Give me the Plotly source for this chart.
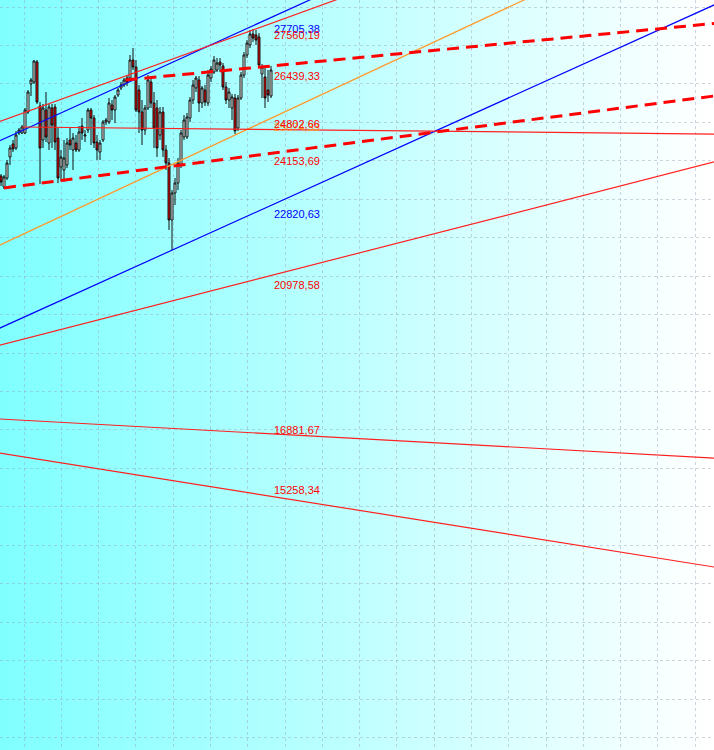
import plotly.graph_objects as go

# ---- candle data (bar index, prices) ----
opens = [23748, 23451, 23694, 24261, 24612, 24504, 24909, 24909, 24909, 25476,
         26232, 26286, 26826, 25638, 24720, 25530, 24639, 25584, 25611, 24774,
         23991, 23910, 24045, 24720, 24450, 24639, 24450, 25098, 24828, 24990,
         25530, 25314, 24666, 24396, 24720, 25206, 25206, 25665, 25530, 25935,
         26124, 26205, 26394, 26394, 26880, 26691, 26070, 25476, 24990, 25584,
         26286, 25719, 25584, 24855, 25476, 24450, 24099, 22560, 23289, 23559,
         24045, 24801, 24801, 25314, 25800, 26124, 26340, 25719, 26070, 25719,
         26394, 26556, 26610, 26826, 26718, 26151, 25800, 25584, 25854, 25044,
         25854, 26475, 27015, 27285, 27582, 27555, 27501, 26502, 26421, 26070,
         25908]
highs = [23802, 23775, 24180, 24585, 24720, 24963, 25044, 25125, 25584, 26070,
         26394, 26880, 26880, 25746, 25692, 26016, 25692, 25692, 25692, 25044,
         24450, 24720, 24774, 25044, 24909, 24855, 25098, 25314, 24990, 25584,
         25584, 25395, 24855, 24720, 25260, 25314, 25854, 25800, 25935, 26124,
         26286, 26394, 26475, 27015, 27204, 26880, 26205, 25800, 25665, 26475,
         26394, 26016, 25800, 25611, 25611, 24585, 24234, 23370, 23694, 24234,
         24990, 25395, 25449, 25881, 26340, 26448, 26448, 26178, 26205, 26610,
         26718, 26988, 26934, 26934, 26799, 26286, 26124, 25962, 25962, 25935,
         26556, 27096, 27420, 27690, 27717, 27690, 27609, 26772, 26718, 26610,
         26718]
lows = [23478, 23397, 23640, 24045, 24396, 24450, 24855, 24882, 24882, 25422,
        25908, 26232, 25692, 23532, 24504, 24666, 24450, 24504, 24450, 23559,
        23613, 23586, 23964, 24450, 23910, 24396, 24396, 24720, 24666, 24909,
        24585, 24504, 24180, 24180, 24666, 25125, 25152, 25260, 25179, 25881,
        26070, 26151, 26178, 26340, 26610, 25476, 24909, 24585, 24855, 25530,
        25584, 24504, 24261, 24720, 24261, 23910, 22290, 21750, 22965, 23370,
        23964, 24720, 24747, 25206, 25692, 26016, 25476, 25584, 25638, 25638,
        26286, 26502, 26556, 26556, 26070, 25692, 25584, 25260, 24882, 24963,
        25800, 26394, 26934, 27204, 27366, 27285, 26664, 25854, 25584, 25746,
        25854]
closes = [23586, 23721, 24099, 24504, 24477, 24855, 24990, 25071, 25530, 26016,
          26340, 26853, 25746, 24504, 25584, 24801, 25611, 25125, 24666, 23694,
          24261, 24234, 24639, 24585, 24774, 24450, 24936, 24909, 24855, 25530,
          25314, 24639, 24450, 24639, 25206, 25260, 25719, 25530, 25881, 26070,
          26205, 26340, 26286, 26880, 26691, 25530, 25476, 24990, 25584, 26340,
          25719, 25044, 24504, 25476, 24450, 24099, 22560, 23289, 23559, 24099,
          24909, 25260, 25341, 25800, 26205, 26394, 25719, 26124, 25746, 26475,
          26637, 26880, 26799, 26745, 26151, 25800, 26016, 25881, 24963, 25854,
          26475, 27015, 27339, 27582, 27474, 27420, 26745, 26691, 25854, 25935,
          26610]
bar_index = list(range(len(opens)))

# ---- trend lines: start/end bar index and price ----
line_x0 = [-1, -1, -1, -1, 7, 41.5, 1, -1, -1, -1]
line_x1 = [240, 110, 120, 180, 240, 240, 240, 240, 240, 240]
line_y0 = [19620, 24680, 25201, 21860, 25071, 26340, 23427, 19171, 17190, 16277]
line_y1 = [28451, 28762, 28748, 28716, 24879, 27884, 25932, 24175, 16123, 13161]
line_color = ["#0000FF", "#0000FF", "#FF2020", "#FF9A2E", "#FF2020",
              "#FF0000", "#FF0000", "#FF2020", "#FF2020", "#FF2020"]
line_width = [1.2, 1.2, 1.2, 1.2, 1.2, 3, 3, 1.2, 1.2, 1.2]
line_dash = ["solid", "solid", "solid", "solid", "solid",
             "12px,7px", "12px,7px", "solid", "solid", "solid"]

# ---- price labels ----
label_text = ["27705,38", "27560,19", "26439,33", "25074,33", "24802,66",
              "24153,69", "22820,63", "20978,58", "16881,67", "15258,34"]
label_value = [27705.38, 27560.19, 26439.33, 25074.33, 24802.66,
               24153.69, 22820.63, 20978.58, 16881.67, 15258.34]
label_color = ["#0000FF", "#FF0000", "#FF0000", "#FF9A2E", "#FF0000",
               "#FF0000", "#0000FF", "#FF0000", "#FF0000", "#FF0000"]
label_shift = [0, 0, 0, 0, 13, 0, -4, -6, 0, 0]

fig = go.Figure()

fig.add_trace(go.Candlestick(
    x=bar_index, open=opens, high=highs, low=lows, close=closes,
    increasing=dict(line=dict(color="#101010", width=1), fillcolor="#FFFFFF"),
    decreasing=dict(line=dict(color="#101010", width=1), fillcolor="#FF0000"),
    whiskerwidth=0, showlegend=False, hoverinfo="skip",
))

for i in range(len(line_x0)):
    fig.add_trace(go.Scatter(
        x=[line_x0[i], line_x1[i]], y=[line_y0[i], line_y1[i]],
        mode="lines", showlegend=False, hoverinfo="skip",
        line=dict(color=line_color[i], width=line_width[i], dash=line_dash[i]),
    ))

label_x = bar_index[-1] + 0.45
for t, v, c, s in zip(label_text, label_value, label_color, label_shift):
    fig.add_annotation(x=label_x, y=v, text=t, showarrow=False,
                       xanchor="left", yanchor="middle", yshift=s,
                       font=dict(family="Liberation Sans", size=11, color=c))

# background gradient (cyan -> white)
n_bands = 80
for k in range(n_bands):
    f = k / (n_bands - 1)
    r = int(round(128 + (255 - 128) * f))
    fig.add_shape(type="rect", xref="paper", yref="paper",
                  x0=k / n_bands, x1=(k + 1) / n_bands + 0.002, y0=0, y1=1,
                  fillcolor=f"rgb({r},255,255)", line=dict(width=0),
                  layer="below")

grid_col = "rgba(150,160,185,0.45)"
fig.update_layout(
    width=714, height=750,
    margin=dict(l=0, r=0, t=0, b=0),
    paper_bgcolor="white", plot_bgcolor="rgba(0,0,0,0)",
    showlegend=False, boxgap=0.08, hovermode=False,
    xaxis=dict(range=[-1/3, 238 - 1/3], rangeslider=dict(visible=False),
               showticklabels=False, ticks="", zeroline=False,
               showgrid=True, gridcolor=grid_col, griddash="dot",
               gridwidth=1, tick0=7.67, dtick=12.43, showline=False),
    yaxis=dict(range=[8250, 28500], showticklabels=False, ticks="",
               zeroline=False, showgrid=True,
               gridcolor=grid_col, griddash="dot", gridwidth=1,
               tick0=28311, dtick=1038.2, showline=False),
)

fig.write_html("out.html", config={"displayModeBar": False},
               post_script="document.body.style.margin='0';document.body.style.overflow='hidden';")
